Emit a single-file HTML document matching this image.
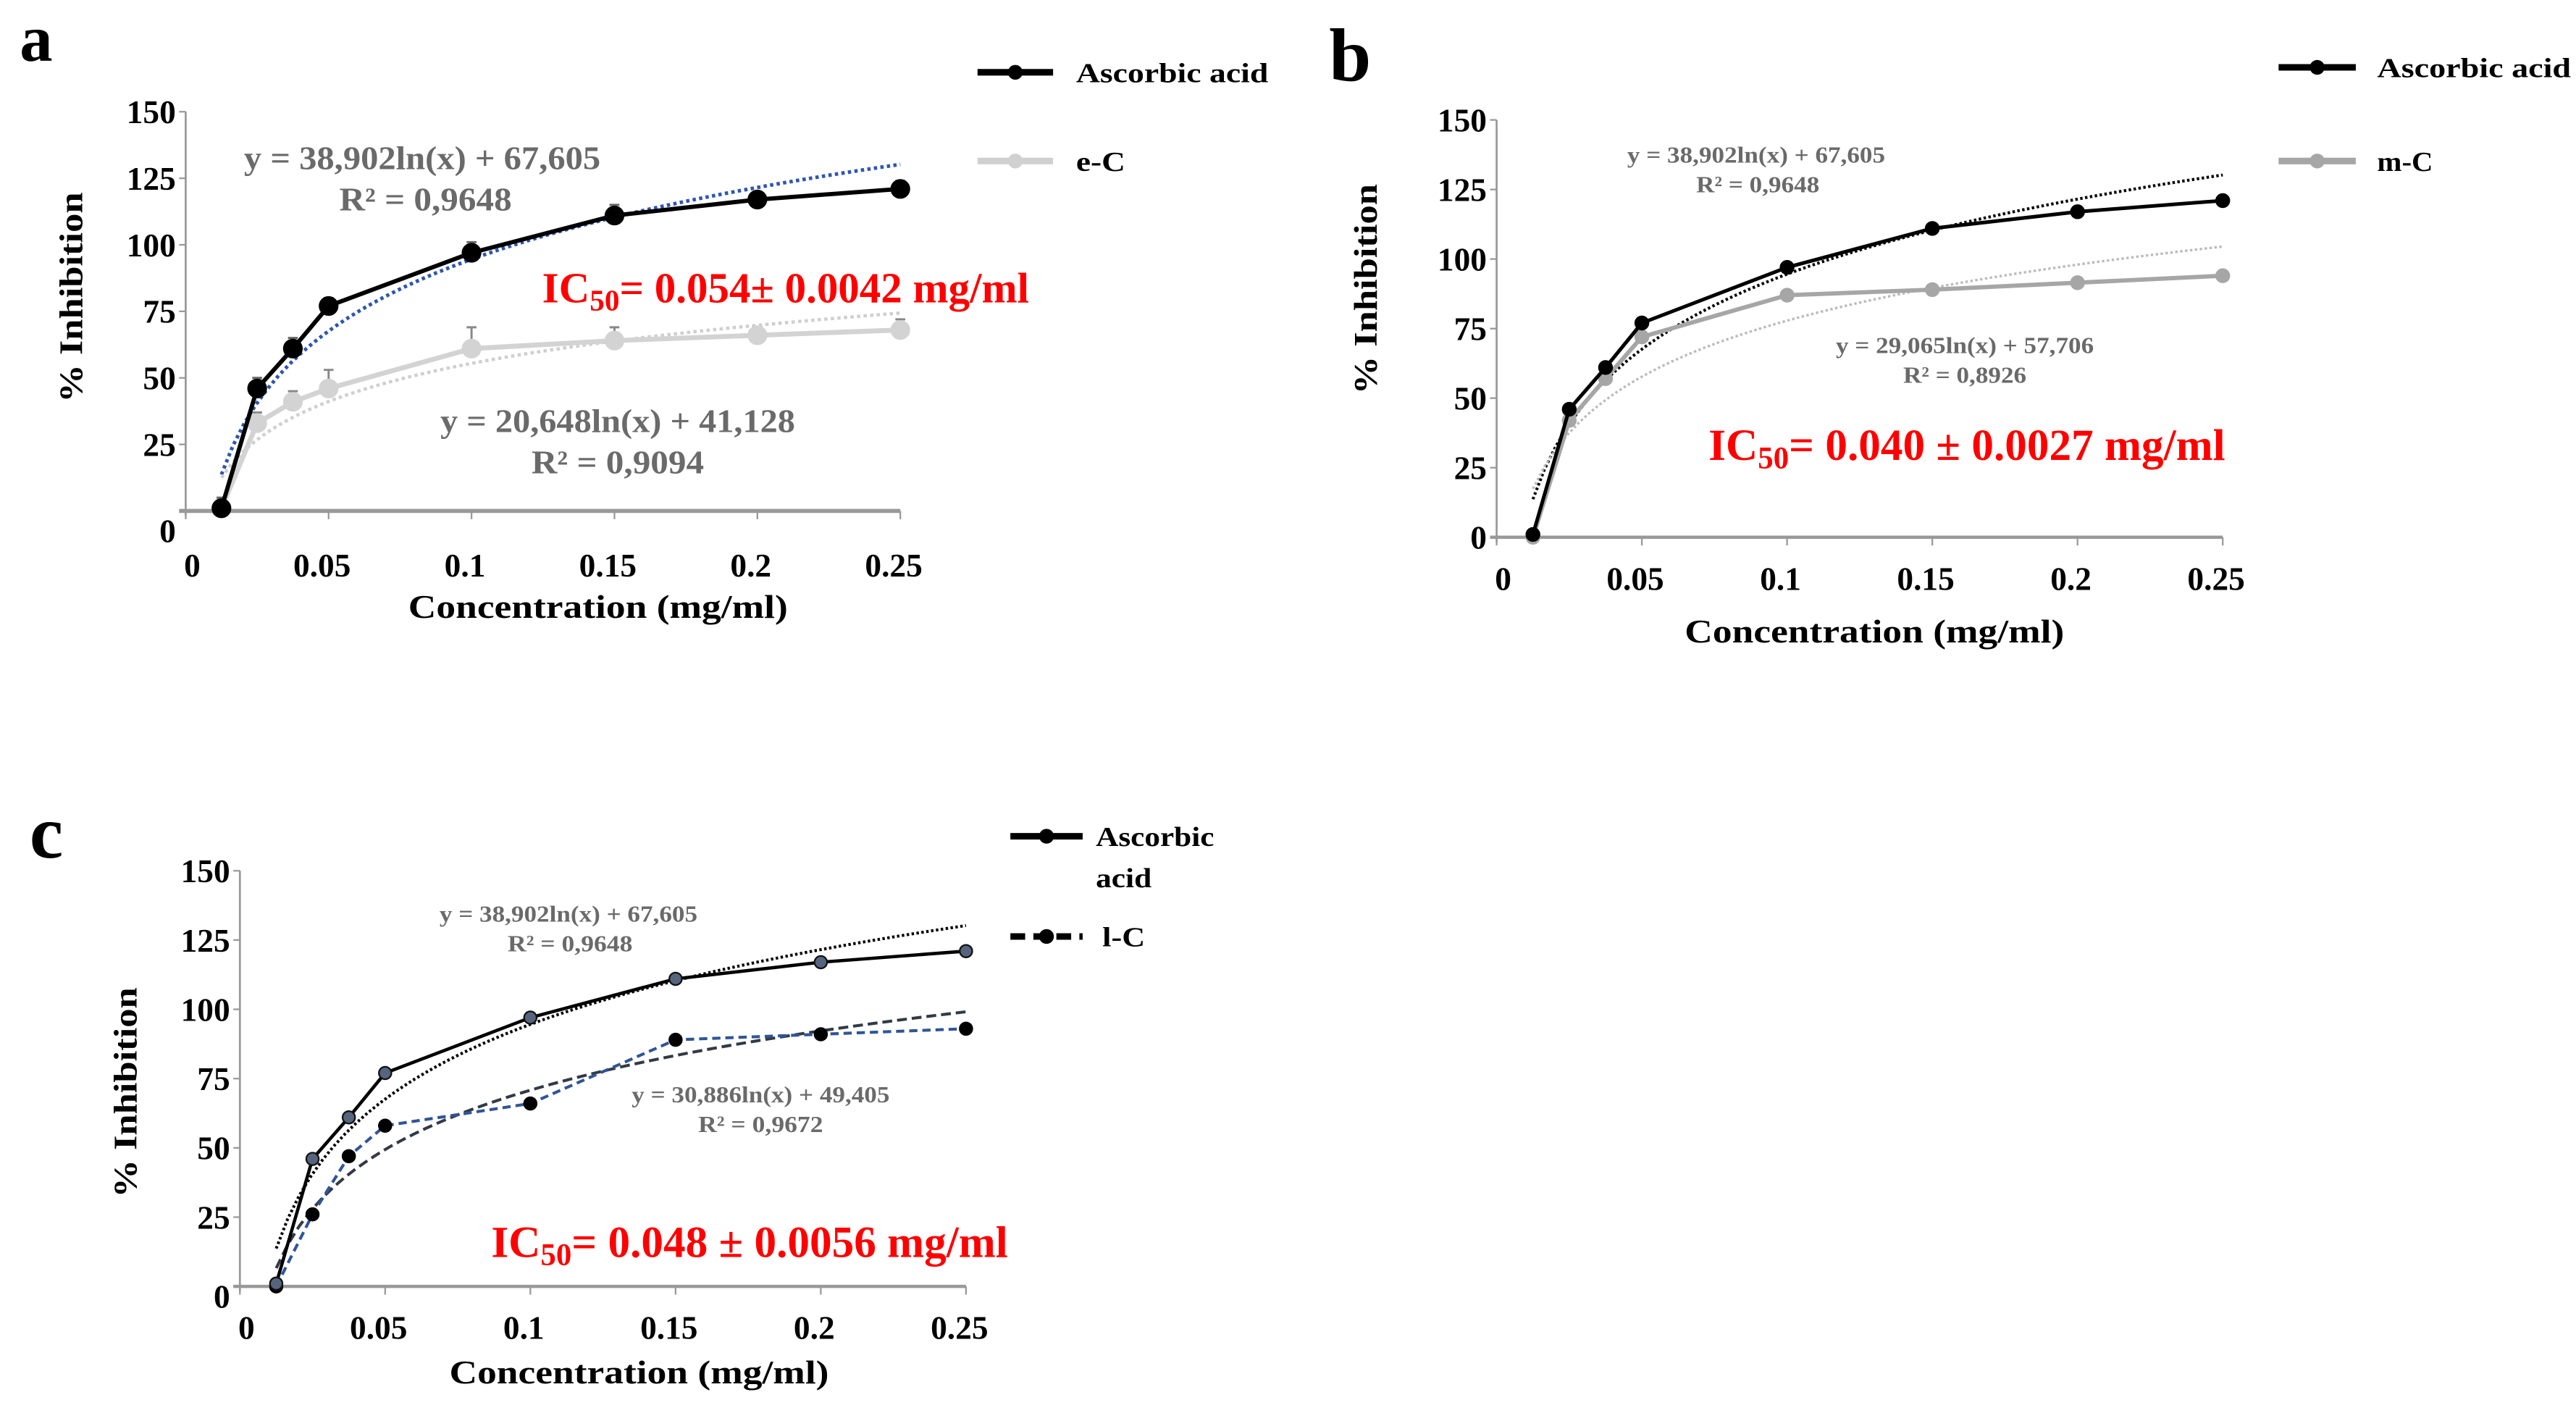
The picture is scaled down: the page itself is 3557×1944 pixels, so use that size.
<!DOCTYPE html>
<html><head><meta charset="utf-8">
<style>
html,body{margin:0;padding:0;background:#fff;overflow:hidden;}
svg{display:block;}
text{font-family:"Liberation Serif",serif;font-weight:bold;}
</style></head>
<body>
<svg id="fig" xmlns="http://www.w3.org/2000/svg" width="3557" height="1944" viewBox="0 0 1568 857">
<rect width="1568" height="857" fill="#fff"/>
</svg>
<script>
const concentrations = [0.0125, 0.025, 0.0375, 0.05, 0.1, 0.15, 0.2, 0.25];
const ascorbicValues = [1, 46, 61, 77, 97, 111, 117, 121];
const ascorbicErrors = [4, 4, 4, 3, 4, 4, 2, 3];
const eCValues = [1, 33, 41, 46, 61, 64, 66, 68];
const eCErrors = [3, 4, 4, 7, 8, 5, 3, 4];
const mCValues = [0, 42, 57, 72, 87, 89, 91.5, 94];
const lCValues = [0, 26, 47, 58, 66, 89, 91, 93];
const yTickLabels = [0, 25, 50, 75, 100, 125, 150];
const xTickValues = [0, 0.05, 0.1, 0.15, 0.2, 0.25];
const xTickLabels = ["0", "0.05", "0.1", "0.15", "0.2", "0.25"];
const ascorbicFit = [38.902, 67.605];
const eCFit = [20.648, 41.128];
const mCFit = [29.065, 57.706];
const lCFit = [30.886, 49.405];
const fitXScale = 20;

const NS = "http://www.w3.org/2000/svg";
const svg = document.getElementById("fig");
function mk(tag, attrs, parent, txt) {
  const e = document.createElementNS(NS, tag);
  for (const k in attrs) e.setAttribute(k, attrs[k]);
  if (txt !== undefined) e.textContent = txt;
  (parent || svg).appendChild(e);
  return e;
}

function panel(cfg) {
  const g = mk("g", {});
  
  
  const X = v => cfg.x0 + (v / 0.25) * (cfg.x1 - cfg.x0);
  const Y = v => cfg.y0 - (v / 150) * (cfg.y0 - cfg.y150);

  const lt = mk("text", {x: cfg.letter[0], y: cfg.letter[1], "font-size": cfg.letter[2], fill: "#000"}, g, cfg.id);
  
  

  const ya = mk("line", {x1: X(0), y1: Y(0) + 3, x2: X(0), y2: Y(150), stroke: "#999", "stroke-width": 1.2}, g);
  
  
  const xa = mk("line", {x1: X(0) - 4, y1: Y(0), x2: X(0.25), y2: Y(0), stroke: "#999", "stroke-width": cfg.xAxisW}, g);
  
  

  yTickLabels.forEach(v => {
    mk("line", {x1: X(0) - 4, y1: Y(v), x2: X(0), y2: Y(v), stroke: "#999", "stroke-width": 1}, g);
    const t = mk("text", {x: X(0) - 6, y: Y(v) + 7 + (v === 0 ? cfg.zeroDrop : 0), "text-anchor": "end", "font-size": cfg.tickFs}, g, String(v));
    
    
  });
  xTickValues.forEach((v, i) => {
    mk("line", {x1: X(v), y1: Y(0), x2: X(v), y2: Y(0) + 5, stroke: "#999", "stroke-width": 1}, g);
    const t = mk("text", {x: X(v) + (i === 0 ? 4 : -4), y: cfg.xLabY, "text-anchor": "middle", "font-size": cfg.tickFs}, g, xTickLabels[i]);
    
    
  });

  const xt = mk("text", {x: cfg.xTitle[0], y: cfg.xTitle[1], "text-anchor": "middle", "font-size": 20, textLength: 231, lengthAdjust: "spacingAndGlyphs"}, g, "Concentration (mg/ml)");
  
  
  const yt = mk("text", {x: 0, y: 0, "text-anchor": "middle", "font-size": 20, textLength: 128, lengthAdjust: "spacingAndGlyphs", transform: `translate(${cfg.yTitle[0]},${cfg.yTitle[1]}) rotate(-90)`}, g, "% Inhibition");
  
  

  cfg.fits.forEach(f => {
    let d = "";
    for (let i = 0; i <= 60; i++) {
      const x = 0.0125 + (0.25 - 0.0125) * i / 60;
      const y = f.c[0] * Math.log(x * fitXScale) + f.c[1];
      d += (i ? "L" : "M") + X(x).toFixed(2) + "," + Y(y).toFixed(2);
    }
    const p = mk("path", {d: d, fill: "none", stroke: f.color, "stroke-width": f.w, "stroke-dasharray": f.dash}, g);
    
    
  });

  cfg.series.forEach(s => {
    if (s.errors) {
      s.values.forEach((v, i) => {
        const eb = mk("path", {d: `M${X(concentrations[i])},${Y(v)}V${Y(v + s.errors[i])}M${X(concentrations[i]) - 3},${Y(v + s.errors[i])}H${X(concentrations[i]) + 3}`, stroke: s.errColor, "stroke-width": 1.3, fill: "none"}, g);
        
        
      });
    }
    const pts = s.values.map((v, i) => X(concentrations[i]).toFixed(2) + "," + Y(v).toFixed(2)).join(" ");
    const pl = mk("polyline", {points: pts, fill: "none", stroke: s.color, "stroke-width": s.w, "stroke-dasharray": s.dash || "none"}, g);
    
    
    s.values.forEach((v, i) => {
      const c = mk("circle", {cx: X(concentrations[i]), cy: Y(v), r: s.r, fill: s.mfill, stroke: s.mstroke, "stroke-width": 1}, g);
      
      
    });
  });

  cfg.eqs.forEach(e => {
    const t = mk("text", {x: e.x, y: e.y, "text-anchor": "middle", "font-size": e.fs, fill: e.color || "#6a6a6a", textLength: e.len, lengthAdjust: "spacingAndGlyphs"}, g, e.t);
    
    
  });

  const ic = mk("text", {x: cfg.ic[0], y: cfg.ic[1], "font-size": cfg.ic[2], fill: "#ff0000"}, g);
  
  
  mk("tspan", {}, ic, "IC");
  mk("tspan", {dy: 5, "font-size": cfg.ic[2] * 0.7}, ic, "50");
  mk("tspan", {dy: -5}, ic, cfg.ic[3]);

  cfg.legend.forEach(l => {
    const lg = mk("g", {}, g);
    
    
    mk("line", {x1: l.x, y1: l.y, x2: l.x + l.len, y2: l.y, stroke: l.color, "stroke-width": 4, "stroke-dasharray": l.dash || "none"}, lg);
    mk("circle", {cx: l.x + l.len / 2, cy: l.y, r: 4.5, fill: l.color}, lg);
    l.lines.forEach((ln, i) => {
      mk("text", {x: l.tx, y: l.y + 6 + i * 25, "font-size": 17, textLength: ln.len, lengthAdjust: "spacingAndGlyphs"}, lg, ln.t);
    });
  });
}

panel({
  id: "a", x0: 113, x1: 548, y0: 311, y150: 68, letter: [12, 37, 40], tickFs: 20, zeroDrop: 12, xAxisW: 2.5,
  xLabY: 351, xTitle: [364, 376], yTitle: [50, 181],
  fits: [
    {name: "ascorbic-trendline", c: ascorbicFit, color: "#2e56b0", w: 2.2, dash: "2 2"},
    {name: "ec-trendline", c: eCFit, color: "#cfcfcf", w: 2, dash: "2 2"}
  ],
  series: [
    {key: "ec", values: eCValues, errors: eCErrors, errColor: "#888", color: "#d3d3d3", w: 3, r: 5.5, mfill: "#d3d3d3", mstroke: "#d3d3d3"},
    {key: "ascorbic", values: ascorbicValues, errors: ascorbicErrors, errColor: "#666", color: "#000", w: 2.6, r: 5.5, mfill: "#000", mstroke: "#000"}
  ],
  eqs: [
    {name: "ascorbic-equation", t: "y = 38,902ln(x) + 67,605", x: 257, y: 103, fs: 20, len: 217},
    {name: "ascorbic-r2", t: "R² = 0,9648", x: 259, y: 128, fs: 20, len: 105},
    {name: "ec-equation", t: "y = 20,648ln(x) + 41,128", x: 376, y: 263, fs: 20, len: 216},
    {name: "ec-r2", t: "R² = 0,9094", x: 376, y: 288, fs: 20, len: 105}
  ],
  ic: [330, 184, 26, "= 0.054± 0.0042 mg/ml"],
  legend: [
    {key: "ascorbic", x: 595, y: 44, len: 46, color: "#000", tx: 655, lines: [{t: "Ascorbic acid", len: 117}]},
    {key: "ec", x: 595, y: 98, len: 46, color: "#d0d0d0", tx: 655, lines: [{t: "e-C", len: 30}]}
  ]
});

panel({
  id: "b", x0: 911, x1: 1353, y0: 327, y150: 73, letter: [809, 49, 46], tickFs: 20, zeroDrop: 0, xAxisW: 2,
  xLabY: 359, xTitle: [1141, 391], yTitle: [838, 176],
  fits: [
    {name: "ascorbic-trendline", c: ascorbicFit, color: "#000", w: 1.8, dash: "1.5 1.5"},
    {name: "mc-trendline", c: mCFit, color: "#bbb", w: 1.5, dash: "1.5 1.5"}
  ],
  series: [
    {key: "mc", values: mCValues, color: "#a6a6a6", w: 2.6, r: 4, mfill: "#a6a6a6", mstroke: "#a6a6a6"},
    {key: "ascorbic", values: ascorbicValues, color: "#000", w: 2.2, r: 4, mfill: "#000", mstroke: "#000"}
  ],
  eqs: [
    {name: "ascorbic-equation", t: "y = 38,902ln(x) + 67,605", x: 1069, y: 99, fs: 14, len: 157},
    {name: "ascorbic-r2", t: "R² = 0,9648", x: 1070, y: 117, fs: 14, len: 75},
    {name: "mc-equation", t: "y = 29,065ln(x) + 57,706", x: 1196, y: 215, fs: 14, len: 157},
    {name: "mc-r2", t: "R² = 0,8926", x: 1196, y: 233, fs: 14, len: 75}
  ],
  ic: [1040, 280, 27, "= 0.040 ± 0.0027 mg/ml"],
  legend: [
    {key: "ascorbic", x: 1387, y: 41, len: 47, color: "#000", tx: 1447, lines: [{t: "Ascorbic acid", len: 118}]},
    {key: "mc", x: 1387, y: 98, len: 47, color: "#a6a6a6", tx: 1447, lines: [{t: "m-C", len: 34}]}
  ]
});

panel({
  id: "c", x0: 146, x1: 588, y0: 783, y150: 530, letter: [18, 522, 46], tickFs: 20, zeroDrop: 6, xAxisW: 2,
  xLabY: 815, xTitle: [389, 842], yTitle: [83, 665],
  fits: [
    {name: "ascorbic-trendline", c: ascorbicFit, color: "#000", w: 1.8, dash: "1.5 1.5"},
    {name: "lc-trendline", c: lCFit, color: "#333a45", w: 1.8, dash: "6 3"}
  ],
  series: [
    {key: "lc", values: lCValues, color: "#2f5597", w: 1.8, dash: "5 3", r: 3.8, mfill: "#000", mstroke: "#000"},
    {key: "ascorbic", values: ascorbicValues, color: "#000", w: 2, r: 3.8, mfill: "#55657d", mstroke: "#111"}
  ],
  eqs: [
    {name: "ascorbic-equation", t: "y = 38,902ln(x) + 67,605", x: 346, y: 561, fs: 14, len: 157},
    {name: "ascorbic-r2", t: "R² = 0,9648", x: 347, y: 579, fs: 14, len: 76},
    {name: "lc-equation", t: "y = 30,886ln(x) + 49,405", x: 463, y: 671, fs: 14, len: 157},
    {name: "lc-r2", t: "R² = 0,9672", x: 463, y: 689, fs: 14, len: 76}
  ],
  ic: [299, 765, 27, "= 0.048 ± 0.0056 mg/ml"],
  legend: [
    {key: "ascorbic", x: 615, y: 509, len: 44, color: "#000", tx: 667, lines: [{t: "Ascorbic", len: 72}, {t: "acid", len: 34}]},
    {key: "lc", x: 615, y: 570, len: 44, color: "#000", dash: "9 5", tx: 671, lines: [{t: "l-C", len: 26}]}
  ]
});
</script>
</body></html>
